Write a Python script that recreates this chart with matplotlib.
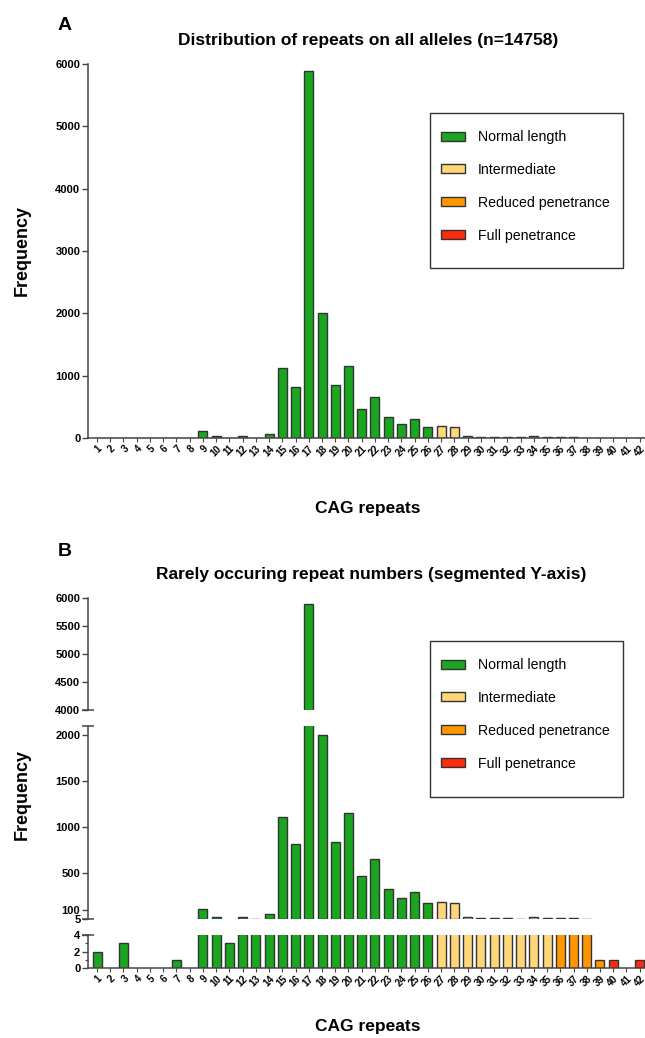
import matplotlib
matplotlib.use("Agg")
import matplotlib.pyplot as plt
from matplotlib.patches import Patch, Rectangle

plt.rcParams['font.family'] = ['Liberation Sans', 'DejaVu Sans']

# ---------------- data ----------------
repeats = list(range(1, 43))
freq = [2, 0, 3, 0, 0, 0, 1, 0, 111, 28,
        3, 31, 8, 57, 1116, 815, 5894, 2004, 844, 1152,
        467, 656, 330, 228, 303, 176, 194, 180, 30, 12,
        11, 15, 9, 28, 17, 11, 12, 7, 1, 1,
        0, 1]
cat_names = ["Normal length", "Intermediate", "Reduced penetrance", "Full penetrance"]
cat_colors = ["#1AA61F", "#FFD77A", "#FF9600", "#FF2A0A"]
# category bounds (upper limit of each class)
cat_upper = [26, 35, 39, 99]

title_a = "Distribution of repeats on all alleles (n=14758)"
title_b = "Rarely occuring repeat numbers (segmented Y-axis)"
xlabel = "CAG repeats"
ylabel = "Frequency"
yticks_a = [0, 1000, 2000, 3000, 4000, 5000, 6000]
yticks_top = [4000, 4500, 5000, 5500, 6000]
yticks_mid = [5, 100, 500, 1000, 1500, 2000]
yticks_bot = [0, 2, 4]
seg_top = (4000, 6000)
seg_mid = (5, 2100)
seg_bot = (0, 4)


def color_of(r):
    for c, up in zip(cat_colors, cat_upper):
        if r <= up:
            return c
    return cat_colors[-1]


colors = [color_of(r) for r in repeats]

W, H = 645, 1038
fig = plt.figure(figsize=(W / 100, H / 100), dpi=100)

EDGE = "#333333"
SP = "#444444"
BW = 0.68
XL = (0.32, 42.4)
left = 88 / W
width = (W - 88) / W


def fy(py):
    return 1 - py / H


def add_ax(top_px, bot_px):
    return fig.add_axes([left, fy(bot_px), width, (bot_px - top_px) / H])


def style(ax, bottom=False):
    for s in ["top", "right"]:
        ax.spines[s].set_visible(False)
    ax.spines["left"].set_color(SP)
    ax.spines["left"].set_linewidth(1.1)
    ax.tick_params(axis="y", direction="out", length=4, width=1, color=SP,
                   labelsize=8, pad=1.5)
    for lab in ax.get_yticklabels():
        lab.set_fontweight("bold")
    ax.set_xlim(*XL)
    if bottom:
        ax.spines["bottom"].set_color(SP)
        ax.spines["bottom"].set_linewidth(1.1)
        ax.set_xticks(repeats)
        ax.set_xticklabels([str(r) for r in repeats], rotation=45, ha="right",
                           rotation_mode="anchor", fontsize=7, fontweight="bold")
        ax.tick_params(axis="x", direction="out", length=3, width=0.8, color=SP, pad=1)
    else:
        ax.spines["bottom"].set_visible(False)
        ax.set_xticks([])


def cap(ax, yfrac):
    ax.plot([0], [yfrac], marker="_", ms=9, mew=1.1, color=SP,
            transform=ax.transAxes, clip_on=False)


def legend(top_px, bot_px, x0_px, x1_px):
    box = Rectangle((x0_px / W, fy(bot_px)), (x1_px - x0_px) / W, (bot_px - top_px) / H,
                    transform=fig.transFigure, facecolor="white", edgecolor=EDGE,
                    linewidth=1, zorder=4)
    fig.patches.append(box)
    handles = [Patch(facecolor=c, edgecolor=EDGE, linewidth=1) for c in cat_colors]
    leg = fig.legend(handles, cat_names, loc="upper left",
                     bbox_to_anchor=((x0_px + 11) / W, fy(top_px + 17)),
                     bbox_transform=fig.transFigure, fontsize=10.2, frameon=False,
                     borderpad=0, labelspacing=1.33,
                     handlelength=1.7, handleheight=0.6, handletextpad=0.92,
                     borderaxespad=0)
    leg.set_zorder(5)


# ---------------- Panel A ----------------
axA = add_ax(64, 438)
axA.bar(repeats, freq, width=BW, color=colors, edgecolor=EDGE, linewidth=1)
axA.set_ylim(0, 6000)
axA.set_yticks(yticks_a)
style(axA, bottom=True)
legend(113, 268, 430, 623)

fig.text(65 / W, fy(25), "A", fontsize=14, fontweight="bold", ha="center", va="center")
fig.text(368 / W, fy(40), title_a, fontsize=12.5, fontweight="bold", ha="center", va="center")
fig.text(22 / W, fy(250), ylabel, fontsize=13, fontweight="bold", rotation=90,
         ha="center", va="center")
fig.text(368 / W, fy(508), xlabel, fontsize=12.5, fontweight="bold", ha="center", va="center")

# ---------------- Panel B (segmented) ----------------
axT = add_ax(598, 710)
axM = add_ax(726, 919)
axB = add_ax(935, 968)

for ax, (lo, hi) in ((axT, seg_top), (axM, seg_mid), (axB, seg_bot)):
    sel = [i for i, f in enumerate(freq) if f > lo]
    ax.bar([repeats[i] for i in sel], [freq[i] for i in sel], width=BW,
           color=[colors[i] for i in sel], edgecolor=EDGE, linewidth=1)
    ax.set_ylim(lo, hi)

axT.set_yticks(yticks_top)
style(axT)
cap(axT, 0)

axM.set_yticks(yticks_mid)
style(axM)
cap(axM, 1)
cap(axM, 0)

axB.set_yticks(yticks_bot)
axB.set_yticks([1, 3], minor=True)
style(axB, bottom=True)
axB.tick_params(axis="y", which="minor", length=2.5, width=0.8, color=SP)
cap(axB, 1)

legend(641, 797, 430, 623)

fig.text(65 / W, fy(551), "B", fontsize=14, fontweight="bold", ha="center", va="center")
fig.text(371 / W, fy(575), title_b, fontsize=12.5, fontweight="bold", ha="center", va="center")
fig.text(22 / W, fy(795), ylabel, fontsize=13, fontweight="bold", rotation=90,
         ha="center", va="center")
fig.text(368 / W, fy(1026), xlabel, fontsize=12.5, fontweight="bold", ha="center", va="center")

fig.savefig("out.png", dpi=100)
